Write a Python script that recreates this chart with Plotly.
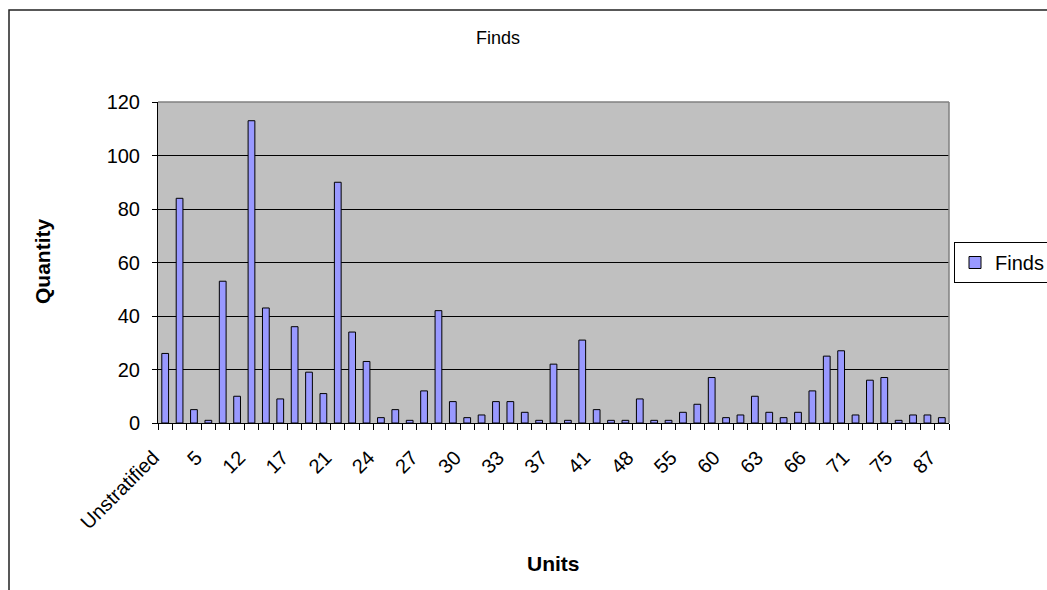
import plotly.graph_objects as go

# Excavation units (every third one is labelled on the axis)
units = [
    "Unstratified", "1", "3", "5", "7", "10", "12", "14", "15", "17",
    "18", "20", "21", "22", "23", "24", "25", "26", "27", "28",
    "29", "30", "31", "32", "33", "34", "35", "37", "38", "40",
    "41", "43", "45", "48", "50", "52", "55", "57", "58", "60",
    "61", "62", "63", "64", "65", "66", "68", "70", "71", "72",
    "74", "75", "79", "83", "87",
]

# Number of finds per unit
finds = [
    26, 84, 5, 1, 53, 10, 113, 43, 9, 36,
    19, 11, 90, 34, 23, 2, 5, 1, 12, 42,
    8, 2, 3, 8, 8, 4, 1, 22, 1, 31,
    5, 1, 1, 9, 1, 1, 4, 7, 17, 2,
    3, 10, 4, 2, 4, 12, 25, 27, 3, 16,
    17, 1, 3, 3, 2,
]

y_ticks = [0, 20, 40, 60, 80, 100, 120]
label_step = 3
tick_text = [u if i % label_step == 0 else "" for i, u in enumerate(units)]

FONT = "Liberation Sans, Arial, sans-serif"

# Plot area in pixels
W, H = 1047, 590
L, R, T, B = 158, 949, 102, 423
PW, PH = R - L, B - T


def px_x(p):
    return (p - L) / PW


def px_y(p):
    return (B - p) / PH


fig = go.Figure(
    go.Bar(
        x=units,
        y=finds,
        name="Finds",
        marker=dict(color="#9999FF", line=dict(color="#000000", width=1)),
    )
)

fig.update_layout(
    width=W,
    height=H,
    autosize=False,
    margin=dict(l=L, r=W - R, t=T, b=H - B, autoexpand=False),
    paper_bgcolor="#FFFFFF",
    plot_bgcolor="#C0C0C0",
    font=dict(family=FONT, size=20, color="#000000"),
    bargap=0.53,
    showlegend=True,
    title=dict(
        text="Finds",
        font=dict(family=FONT, size=18, color="#000000"),
        x=498 / W,
        xanchor="center",
        y=1 - 38 / H,
        yanchor="middle",
    ),
    legend=dict(
        xref="container",
        x=954 / W,
        xanchor="left",
        yref="container",
        y=1 - 262.5 / H,
        yanchor="middle",
        bgcolor="#FFFFFF",
        bordercolor="#000000",
        borderwidth=1,
        font=dict(family=FONT, size=20, color="#000000"),
    ),
    xaxis=dict(
        type="category",
        tickmode="array",
        tickvals=units,
        ticktext=tick_text,
        tickson="boundaries",
        ticks="outside",
        ticklen=6,
        tickcolor="#000000",
        tickangle=-45,
        ticklabelshift=-12,
        ticklabelstandoff=14,
        showline=True,
        linecolor="#000000",
        linewidth=1,
        showgrid=False,
        tickfont=dict(family=FONT, size=20),
    ),
    yaxis=dict(
        range=[0, 120],
        tickmode="array",
        tickvals=y_ticks,
        ticks="outside",
        ticklen=5,
        tickcolor="#000000",
        ticklabelstandoff=8,
        showline=True,
        linecolor="#000000",
        linewidth=1,
        showgrid=True,
        gridcolor="#000000",
        gridwidth=1,
        zeroline=False,
        tickfont=dict(family=FONT, size=20),
    ),
)

# Axis titles
fig.add_annotation(text="<b>Units</b>", xref="paper", yref="paper",
                   x=px_x(553), y=px_y(563), showarrow=False,
                   xanchor="center", yanchor="middle",
                   font=dict(family=FONT, size=21))
fig.add_annotation(text="<b>Quantity</b>", xref="paper", yref="paper",
                   x=px_x(42), y=px_y(262), showarrow=False, textangle=-90,
                   xanchor="center", yanchor="middle",
                   font=dict(family=FONT, size=21))

# Plot-area frame on the top and right, and the outer chart border
fig.add_shape(type="line", xref="paper", yref="paper", x0=0, x1=1, y0=1, y1=1,
              line=dict(color="#808080", width=1.5), layer="above")
fig.add_shape(type="line", xref="paper", yref="paper", x0=1, x1=1, y0=0, y1=1,
              line=dict(color="#808080", width=1.5), layer="above")
fig.add_shape(type="rect", xref="paper", yref="paper",
              x0=px_x(9), x1=1.2, y0=px_y(10), y1=-0.6,
              line=dict(color="#222222", width=1.5), layer="above")

fig.write_html("out.html")
